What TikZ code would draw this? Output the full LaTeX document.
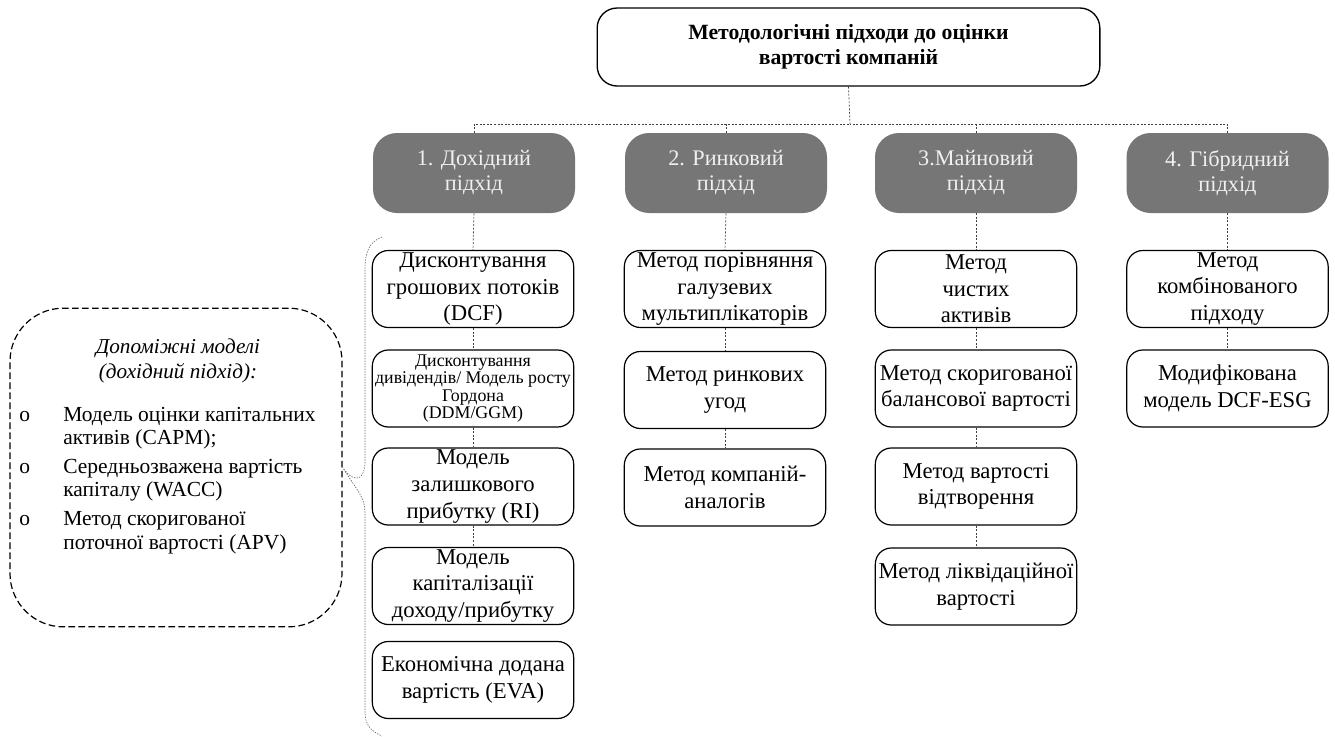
\documentclass[tikz,border=0pt]{standalone}
\usepackage{fontspec}
\setmainfont{Liberation Serif}
\definecolor{boxgray}{HTML}{767676}
\definecolor{graytext}{HTML}{F0F0F0}
\begin{document}
\begin{tikzpicture}[x=0.75pt,y=-0.75pt,
  topbox/.style={draw, line width=1pt, rounded corners=15pt, minimum width=377pt, minimum height=58.5pt, align=center, font=\fontsize{16.3pt}{19pt}\selectfont\bfseries},
  grbox/.style={fill=boxgray, text=graytext, rounded corners=18pt, minimum width=151.5pt, minimum height=60pt, align=center, font=\fontsize{16.7pt}{18.75pt}\selectfont},
  mbox/.style={draw, line width=0.9pt, rounded corners=12pt, minimum width=151pt, minimum height=57.75pt, align=center, inner sep=0.5pt, font=\fontsize{17pt}{20pt}\selectfont},
  smallfont/.style={font=\fontsize{13.4pt}{12.9pt}\selectfont},
  conn/.style={draw=black!75, line width=0.5pt, dash pattern=on 1.5pt off 1.2pt},
  auxbox/.style={draw, line width=0.9pt, dash pattern=on 5pt off 2.5pt, rounded corners=40pt},
  bracepath/.style={draw=black!60, line width=0.5pt, dash pattern=on 1pt off 1pt}
]
\useasboundingbox (0,0) rectangle (1335,736);

% top
\node[topbox] (top) at (848.5,47) {Методологічні підходи до оцінки\\вартості компаній};
\coordinate (bus) at (850,124);

% approach boxes
\node[grbox] (g1) at (474,173) {1. Дохідний\\підхід};
\node[grbox] (g2) at (726,173) {2. Ринковий\\підхід};
\node[grbox] (g3) at (976,173) {3.Майновий\\підхід};
\node[grbox] (g4) at (1227.5,173) {4. Гібридний\\підхід};

% column 1
\node[mbox] (c11) at (473,289) {Дисконтування\\грошових потоків\\(DCF)};
\node[mbox, smallfont] (c12) at (473,388.5) {Дисконтування\\дивідендів/ Модель росту\\Гордона\\(DDM/GGM)};
\node[mbox] (c13) at (473,486.5) {Модель\\залишкового\\прибутку (RI)};
\node[mbox] (c14) at (473,586) {Модель\\капіталізації\\доходу/прибутку};
\node[mbox] (c15) at (473,680) {Економічна додана\\вартість (EVA)};

% column 2
\node[mbox] (c21) at (725,289) {Метод порівняння\\галузевих\\мультиплікаторів};
\node[mbox] (c22) at (725,390) {Метод ринкових\\угод};
\node[mbox] (c23) at (725,487.5) {Метод компаній-\\аналогів};

% column 3
\node[mbox] (c31) at (976,289) {Метод\\чистих\\активів};
\node[mbox] (c32) at (976,388.5) {Метод скоригованої\\балансової вартості};
\node[mbox] (c33) at (976,486.5) {Метод вартості\\відтворення};
\node[mbox] (c34) at (976,586.5) {Метод ліквідаційної\\вартості};

% column 4
\node[mbox] (c41) at (1227.5,289) {Метод\\комбінованого\\підходу};
\node[mbox] (c42) at (1227.5,388.5) {Модифікована\\модель DCF-ESG};

% connectors
\draw[conn] (top.south) -- (bus);
\draw[conn] (g1.north) |- (bus);
\draw[conn] (g4.north) |- (bus);
\draw[conn] (g2.north) -- (g2.north |- bus);
\draw[conn] (g3.north) -- (g3.north |- bus);
\draw[conn] (g1.south) -- (c11.north);
\draw[conn] (c11.south) -- (c12.north);
\draw[conn] (c12.south) -- (c13.north);
\draw[conn] (c13.south) -- (c14.north);
\draw[conn] (g2.south) -- (c21.north);
\draw[conn] (c21.south) -- (c22.north);
\draw[conn] (c22.south) -- (c23.north);
\draw[conn] (g3.south) -- (c31.north);
\draw[conn] (c31.south) -- (c32.north);
\draw[conn] (c32.south) -- (c33.north);
\draw[conn] (c33.south) -- (c34.north);
\draw[conn] (g4.south) -- (c41.north);
\draw[conn] (c41.south) -- (c42.north);

% auxiliary models box
\node[auxbox, minimum width=249pt, minimum height=239pt] (aux) at (176,467.5) {};
\node[font=\fontsize{15.9pt}{18.75pt}\selectfont\itshape, align=center] (auxhead) at (178,361) {Допоміжні моделі\\(дохідний підхід):};
\node[anchor=base west, inner sep=0pt, font=\fontsize{16.1pt}{17.6pt}\selectfont] (auxlist) at (19,421)
 {\begin{tabular}[t]{@{}p{33pt}@{}l@{}}
  o & Модель оцінки капітальних\\
   & активів (CAPM);\\[4pt]
  o & Середньозважена вартість\\
   & капіталу (WACC)\\[4pt]
  o & Метод скоригованої\\
   & поточної вартості (APV)
 \end{tabular}};

% brace
\coordinate (btip) at (aux.east);
\draw[bracepath] (382,237) .. controls (369,242) and (365,252) .. (365,270) -- (365,462)
  .. controls (365,478) and (356,486) .. (btip)
  .. controls (356,489) and (365,497) .. (365,512) -- (365,712)
  .. controls (365,724) and (370,731) .. (382,736);
\end{tikzpicture}
\end{document}
